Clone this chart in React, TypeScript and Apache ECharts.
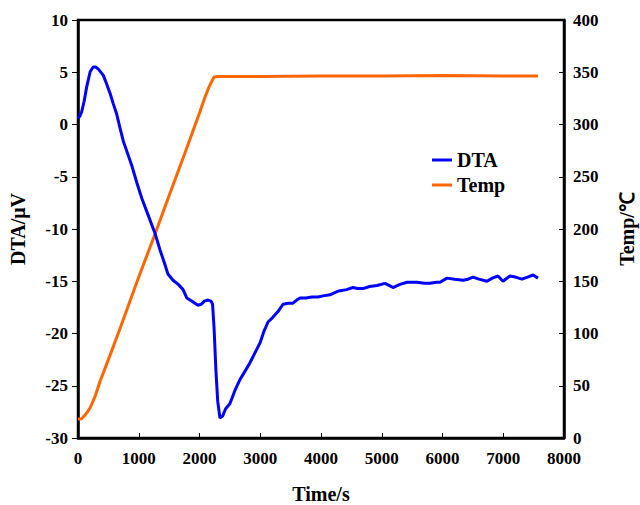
import React, { useEffect, useRef } from "react";
import * as echarts from "echarts";

const dtaTime = [0, 30, 60, 100, 143, 200, 250, 290, 335, 417, 470, 527, 580, 637, 690, 746, 800, 889, 970, 1053, 1150, 1267, 1350, 1420, 1480, 1564, 1650, 1730, 1790, 1844, 1900, 1975, 2030, 2080, 2140, 2190, 2215, 2240, 2270, 2300, 2337, 2380, 2430, 2502, 2580, 2667, 2750, 2831, 2900, 2996, 3060, 3128, 3200, 3292, 3375, 3460, 3539, 3600, 3654, 3750, 3850, 3950, 4033, 4148, 4263, 4313, 4420, 4527, 4600, 4690, 4800, 4922, 5053, 5120, 5185, 5300, 5416, 5580, 5700, 5794, 5900, 5959, 6074, 6200, 6340, 6420, 6502, 6600, 6732, 6820, 6913, 6995, 7110, 7200, 7308, 7400, 7490, 7572];
const dtaValue = [0.6, 0.8, 1.2, 2.2, 3.6, 5.05, 5.5, 5.5, 5.3, 4.7, 3.9, 3.0, 2.0, 1.0, -0.3, -1.6, -2.5, -4.0, -5.6, -7.1, -8.6, -10.4, -12.0, -13.2, -14.3, -14.9, -15.3, -15.8, -16.6, -16.8, -17.0, -17.3, -17.2, -16.9, -16.8, -16.9, -17.2, -19.5, -23.5, -26.5, -28.1, -27.9, -27.2, -26.7, -25.5, -24.4, -23.6, -22.8, -22.0, -20.9, -19.8, -18.9, -18.5, -17.9, -17.2, -17.1, -17.1, -16.8, -16.6, -16.6, -16.5, -16.5, -16.4, -16.3, -16.0, -15.9, -15.8, -15.6, -15.7, -15.7, -15.5, -15.4, -15.2, -15.4, -15.6, -15.3, -15.1, -15.1, -15.2, -15.2, -15.1, -15.1, -14.7, -14.8, -14.9, -14.8, -14.6, -14.8, -15.0, -14.7, -14.5, -15.0, -14.5, -14.6, -14.8, -14.6, -14.4, -14.7];

const tempTime = [0, 60, 115, 150, 198, 280, 362, 500, 700, 856, 1000, 1267, 1500, 1750, 2000, 2090, 2150, 2200, 2240, 2300, 3000, 4000, 5000, 6000, 7000, 7572];
const tempValue = [18, 18.5, 22, 24.5, 28.7, 39.5, 54, 75, 106, 131, 154, 195, 232, 271, 311, 326, 335, 341, 345.5, 346, 346, 346.3, 346.5, 346.8, 346.5, 346.5];

const seriesNames = ["DTA", "Temp"];

const FONT = "'Liberation Serif', 'Times New Roman', serif";

export default function App() {
  const ref = useRef<HTMLDivElement>(null);
  useEffect(() => {
    if (!ref.current) return;
    const chart = echarts.init(ref.current, null, { renderer: "svg" });
    const labelStyle = { color: "#000", fontFamily: FONT, fontWeight: "bold" as const, fontSize: 17 };
    const nameStyle = { color: "#000", fontFamily: FONT, fontWeight: "bold" as const, fontSize: 20 };
    const plain = (v: number) => String(v);
    chart.setOption({
      animation: false,
      backgroundColor: "#fff",
      grid: {
        left: 78, right: 76, top: 20, bottom: 67,
        containLabel: false,
        outerBoundsMode: "none",
        show: true, borderColor: "#000", borderWidth: 2.5, backgroundColor: "transparent",
      },
      legend: {
        orient: "vertical",
        left: 427,
        top: 145,
        itemWidth: 20,
        itemHeight: 3,
        itemGap: 5,
        icon: "rect",
        data: seriesNames,
        textStyle: { color: "#000", fontFamily: FONT, fontWeight: "bold", fontSize: 20 },
      },
      xAxis: {
        type: "value",
        min: 0,
        max: 8000,
        interval: 1000,
        name: "Time/s",
        nameLocation: "middle",
        nameGap: 46,
        nameTextStyle: nameStyle,
        axisLine: { show: true, onZero: false, lineStyle: { color: "#000", width: 2.5 } },
        axisTick: { show: true, inside: true, length: 5, lineStyle: { color: "#000", width: 1 } },
        axisLabel: { ...labelStyle, margin: 12, formatter: plain },
        splitLine: { show: false },
      },
      yAxis: [
        {
          type: "value",
          min: -30,
          max: 10,
          interval: 5,
          name: "DTA/μV",
          nameLocation: "middle",
          nameGap: 50,
          nameTextStyle: nameStyle,
          axisLine: { show: true, onZero: false, lineStyle: { color: "#000", width: 2.5 } },
          axisTick: { show: true, inside: false, length: 6, lineStyle: { color: "#000", width: 1 } },
          axisLabel: { ...labelStyle, margin: 10, formatter: plain },
          splitLine: { show: false },
        },
        {
          type: "value",
          min: 0,
          max: 400,
          interval: 50,
          position: "right",
          name: "Temp/℃",
          nameLocation: "middle",
          nameRotate: 90,
          nameGap: 53,
          nameTextStyle: nameStyle,
          axisLine: { show: true, onZero: false, lineStyle: { color: "#000", width: 2.5 } },
          axisTick: { show: true, inside: true, length: 5, lineStyle: { color: "#000", width: 1 } },
          axisLabel: { ...labelStyle, margin: 9, formatter: plain },
          splitLine: { show: false },
        },
      ],
      series: [
        {
          name: seriesNames[0],
          type: "line",
          yAxisIndex: 0,
          showSymbol: false,
          symbol: "none",
          data: dtaTime.map((t, i) => [t, dtaValue[i]]),
          lineStyle: { color: "#0000ff", width: 3 },
          itemStyle: { color: "#0000ff" },
          z: 3,
        },
        {
          name: seriesNames[1],
          type: "line",
          yAxisIndex: 1,
          showSymbol: false,
          symbol: "none",
          data: tempTime.map((t, i) => [t, tempValue[i]]),
          lineStyle: { color: "#ff6600", width: 3 },
          itemStyle: { color: "#ff6600" },
          z: 2,
        },
      ],
    });
    return () => chart.dispose();
  }, []);
  return <div ref={ref} style={{ position: "absolute", left: 0, top: 0, width: 640, height: 505 }} />;
}
